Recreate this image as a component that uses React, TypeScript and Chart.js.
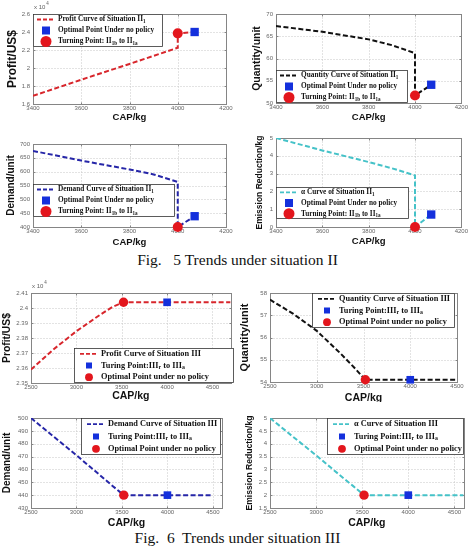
import React, { useEffect, useRef } from 'react';
import { Chart, registerables } from 'chart.js';

Chart.register(...registerables);

// ---------- Situation II (Fig. 5) ----------
const capII = [3400, 3600, 3800, 3900, 4000];
const profitII = [16900, 18700, 20450, 21350, 22250];
const quantityII = [67.3, 66.0, 64.3, 63.0, 61.2];
const demandII = [675, 640, 608, 590, 563];
const alphaII = [5.0, 4.3, 3.65, 3.3, 2.9];

// turning point II1b -> II1a
const turnCapII = 4000;
const turnProfitII = 23850;
const turnQuantityII = 51.7;
const turnDemandII = 400;
const turnAlphaII = 0;

// optimal point under no policy
const optCapII = 4070;
const optProfitII = 24000;
const optQuantityII = 54.1;
const optDemandII = 439;
const optAlphaII = 0.7;

const capTicksII = [3400, 3600, 3800, 4000, 4200];
const profitTicksII = [16000, 18000, 20000, 22000, 24000, 26000];
const quantityTicksII = [50, 55, 60, 65, 70];
const demandTicksII = [400, 450, 500, 550, 600, 650, 700];
const alphaTicksII = [0, 1, 2, 3, 4, 5];

// ---------- Situation III (Fig. 6) ----------
const capIII = [2500, 2750, 3000, 3250, 3400, 3520];
const profitIII = [23590, 23725, 23845, 23950, 24008, 24038];
const quantityIII = [57.7, 57.06, 56.3, 55.3, 54.65, 54.1];
const demandIII = [500, 485.5, 471, 456, 447, 440];
const alphaIII = [5.0, 4.27, 3.55, 2.8, 2.36, 2.0];

// turning point III_r -> III_a
const turnCapIII = 4000;
// the flat part of each curve runs on to these CAP values
const profitEndIII = 4700;
const quantityEndIII = 4500;
const demandEndIII = 4500;
const alphaEndIII = 4600;

const capTicksIII = [2500, 3000, 3500, 4000, 4500];
const profitTicksIII = [23500, 23600, 23700, 23800, 23900, 24000, 24100];
const quantityTicksIII = [54, 55, 56, 57, 58];
const demandTicksIII = [430, 440, 450, 460, 470, 480, 490, 500];
const alphaTicksIII = [1.5, 2, 2.5, 3, 3.5, 4, 4.5, 5];

// ---------- styling ----------
const RED = '#e3161d';
const BLUE = '#1430dc';
const SANS = '"Liberation Sans", Arial, sans-serif';
const SERIF = '"Liberation Serif", "Times New Roman", serif';

type Pt = { x: number; y: number };
type LegendItem = { kind: 'line' | 'square' | 'circle'; text: string };
type PanelSpec = {
  key: string;
  box: [number, number, number, number];
  plot: [number, number, number, number];
  xMin: number; xMax: number; xTicks: number[];
  yMin: number; yMax: number; yTicks: number[];
  yFmt: (v: number) => string;
  curve: Pt[]; circle: Pt; square: Pt;
  color: string;
  yTitle: string; yTitleSize: number; yTitleX: number;
  xTitleSize: number; xTitleY: number;
  legend: [number, number, number, number];
  items: LegendItem[];
  legendFont: number; sample: [number, number]; textX: number;
  legendSquare: number; legendCircle: number;
  circleR: number; squareR: number;
  exponent: boolean;
};

const zip = (xs: number[], ys: number[]): Pt[] => xs.map((x, i) => ({ x, y: ys[i] }));
const plain = (v: number) => String(Number(v.toFixed(3)));
const scaled4 = (v: number) => String(Number((v / 1e4).toFixed(3)));

const fig5 = {
  legendFont: 7.3, sample: [4, 22] as [number, number], textX: 25,
  legendSquare: 8, legendCircle: 5.5, circleR: 5, squareR: 5.9,
  xMin: 3400, xMax: 4200, xTicks: capTicksII, xTitleSize: 9.5,
};
const fig6 = {
  legendFont: 8.3, sample: [6, 24] as [number, number], textX: 27,
  legendSquare: 6, legendCircle: 3.9, circleR: 4.7, squareR: 5.4,
  xMin: 2500, xTicks: capTicksIII, xTitleSize: 10.5,
};

const itemsII = (curveName: string): LegendItem[] => [
  { kind: 'line', text: `${curveName} Curve of Situation II_{1}` },
  { kind: 'square', text: 'Optimal Point Under no policy' },
  { kind: 'circle', text: 'Turning Point: II_{1b} to II_{1a}' },
];
const itemsIII = (curveName: string): LegendItem[] => [
  { kind: 'line', text: `${curveName} Curve of Situation III` },
  { kind: 'square', text: 'Turing Point:III_{r} to III_{a}' },
  { kind: 'circle', text: 'Optimal Point under no policy' },
];

const flatTail = (xs: number[], ys: number[], end: number): Pt[] =>
  [...zip(xs, ys), { x: end, y: ys[ys.length - 1] }];

const panels: PanelSpec[] = [
  {
    ...fig5, key: 'profitII',
    box: [0, 0, 236, 124], plot: [33, 14, 226, 104],
    yMin: 16000, yMax: 26000, yTicks: profitTicksII, yFmt: scaled4,
    curve: [...zip(capII, profitII), { x: turnCapII, y: turnProfitII }, { x: optCapII, y: optProfitII }],
    circle: { x: turnCapII, y: turnProfitII }, square: { x: optCapII, y: optProfitII },
    color: '#d8262c', yTitle: 'Profit/US$', yTitleSize: 12, yTitleX: 12.7, xTitleY: 117,
    legend: [33, 14, 130, 33], items: itemsII('Profit'), exponent: true,
  },
  {
    ...fig5, key: 'quantityII',
    box: [236, 0, 233, 124], plot: [276, 14, 462, 103],
    yMin: 50, yMax: 70, yTicks: quantityTicksII, yFmt: plain,
    curve: [...zip(capII, quantityII), { x: turnCapII, y: turnQuantityII }, { x: optCapII, y: optQuantityII }],
    circle: { x: turnCapII, y: turnQuantityII }, square: { x: optCapII, y: optQuantityII },
    color: '#111111', yTitle: 'Quantity/unit', yTitleSize: 10.5, yTitleX: 256.7, xTitleY: 117,
    legend: [276, 70, 132, 33], items: itemsII('Quantity'), exponent: false,
  },
  {
    ...fig5, key: 'demandII',
    box: [0, 124, 236, 126], plot: [33, 144, 226, 227],
    yMin: 400, yMax: 700, yTicks: demandTicksII, yFmt: plain,
    curve: [...zip(capII, demandII), { x: turnCapII, y: turnDemandII }, { x: optCapII, y: optDemandII }],
    circle: { x: turnCapII, y: turnDemandII }, square: { x: optCapII, y: optDemandII },
    color: '#2626a8', yTitle: 'Demand/unit', yTitleSize: 10, yTitleX: 11, xTitleY: 242.7,
    legend: [33, 184, 142, 33], items: itemsII('Demand'), exponent: false,
  },
  {
    ...fig5, key: 'alphaII',
    box: [236, 124, 233, 126], plot: [276, 138, 462, 227],
    yMin: 0, yMax: 5, yTicks: alphaTicksII, yFmt: plain,
    curve: [...zip(capII, alphaII), { x: turnCapII, y: turnAlphaII }, { x: optCapII, y: optAlphaII }],
    circle: { x: turnCapII, y: turnAlphaII }, square: { x: optCapII, y: optAlphaII },
    color: '#45c2c8', yTitle: 'Emission Reduction/kg', yTitleSize: 8.5, yTitleX: 260, xTitleY: 241.7,
    legend: [276, 187, 133, 32], items: itemsII('α'), exponent: false,
  },
  {
    ...fig6, key: 'profitIII',
    box: [0, 268, 236, 134], plot: [31, 293, 235, 383],
    xMax: profitEndIII,
    yMin: 23500, yMax: 24100, yTicks: profitTicksIII, yFmt: scaled4,
    curve: flatTail(capIII, profitIII, profitEndIII),
    circle: { x: capIII[capIII.length - 1], y: profitIII[profitIII.length - 1] },
    square: { x: turnCapIII, y: profitIII[profitIII.length - 1] },
    color: '#d8262c', yTitle: 'Profit/US$', yTitleSize: 10.3, yTitleX: 6.7, xTitleY: 395.7,
    legend: [74, 348, 160, 35], items: itemsIII('Profit'), exponent: true,
  },
  {
    ...fig6, key: 'quantityIII',
    box: [236, 268, 233, 134], plot: [270, 293, 457, 382],
    xMax: quantityEndIII,
    yMin: 54, yMax: 58, yTicks: quantityTicksIII, yFmt: plain,
    curve: flatTail(capIII, quantityIII, quantityEndIII),
    circle: { x: capIII[capIII.length - 1], y: quantityIII[quantityIII.length - 1] },
    square: { x: turnCapIII, y: quantityIII[quantityIII.length - 1] },
    color: '#111111', yTitle: 'Quantity/unit', yTitleSize: 11, yTitleX: 245, xTitleY: 398,
    legend: [312, 293, 143, 35], items: itemsIII('Quantity'), exponent: false,
  },
  {
    ...fig6, key: 'demandIII',
    box: [0, 402, 236, 127], plot: [31, 418, 222, 508],
    xMax: 4600,
    yMin: 430, yMax: 500, yTicks: demandTicksIII, yFmt: plain,
    curve: flatTail(capIII, demandIII, demandEndIII),
    circle: { x: capIII[capIII.length - 1], y: demandIII[demandIII.length - 1] },
    square: { x: turnCapIII, y: demandIII[demandIII.length - 1] },
    color: '#2626a8', yTitle: 'Demand/unit', yTitleSize: 10, yTitleX: 7.3, xTitleY: 523.3,
    legend: [81, 418, 140, 37], items: itemsIII('Demand'), exponent: false,
  },
  {
    ...fig6, key: 'alphaIII',
    box: [236, 402, 233, 127], plot: [270, 418, 465, 508],
    xMax: 4600,
    yMin: 1.5, yMax: 5, yTicks: alphaTicksIII, yFmt: plain,
    curve: flatTail(capIII, alphaIII, alphaEndIII),
    circle: { x: capIII[capIII.length - 1], y: alphaIII[alphaIII.length - 1] },
    square: { x: turnCapIII, y: alphaIII[alphaIII.length - 1] },
    color: '#45c2c8', yTitle: 'Emission Reduction/kg', yTitleSize: 8.6, yTitleX: 250, xTitleY: 523,
    legend: [327, 418, 137, 37], items: itemsIII('α'), exponent: false,
  },
];

// split "II_{1b}" style text into normal / subscript runs
function parseRich(s: string): { t: string; sub: boolean }[] {
  const out: { t: string; sub: boolean }[] = [];
  const re = /_\{([^}]*)\}/g;
  let last = 0;
  let m: RegExpExecArray | null;
  while ((m = re.exec(s))) {
    if (m.index > last) out.push({ t: s.slice(last, m.index), sub: false });
    out.push({ t: m[1], sub: true });
    last = re.lastIndex;
  }
  if (last < s.length) out.push({ t: s.slice(last), sub: false });
  return out;
}

function makeDecor(p: PanelSpec) {
  return {
    id: 'panelDecor',
    beforeDatasetsDraw(chart: any) {
      const { ctx, chartArea: a } = chart;
      const xs = chart.scales.x;
      const ys = chart.scales.y;
      const L = Math.round(a.left) + 0.5;
      const R = Math.round(a.right) + 0.5;
      const T = Math.round(a.top) + 0.5;
      const B = Math.round(a.bottom) + 0.5;
      ctx.save();
      // dotted grid
      ctx.lineWidth = 1;
      ctx.strokeStyle = '#c6c6c6';
      ctx.setLineDash([1, 2]);
      for (const v of p.xTicks) {
        const px = Math.round(xs.getPixelForValue(v)) + 0.5;
        if (px <= L + 1 || px >= R - 1) continue;
        ctx.beginPath(); ctx.moveTo(px, T); ctx.lineTo(px, B); ctx.stroke();
      }
      for (const v of p.yTicks) {
        const py = Math.round(ys.getPixelForValue(v)) + 0.5;
        if (py <= T + 1 || py >= B - 1) continue;
        ctx.beginPath(); ctx.moveTo(L, py); ctx.lineTo(R, py); ctx.stroke();
      }
      ctx.setLineDash([]);
      // inward tick marks and box
      ctx.strokeStyle = '#858585';
      for (const v of p.xTicks) {
        const px = Math.round(xs.getPixelForValue(v)) + 0.5;
        ctx.beginPath();
        ctx.moveTo(px, B); ctx.lineTo(px, B - 2);
        ctx.moveTo(px, T); ctx.lineTo(px, T + 2);
        ctx.stroke();
      }
      for (const v of p.yTicks) {
        const py = Math.round(ys.getPixelForValue(v)) + 0.5;
        ctx.beginPath();
        ctx.moveTo(L, py); ctx.lineTo(L + 2, py);
        ctx.moveTo(R, py); ctx.lineTo(R - 2, py);
        ctx.stroke();
      }
      ctx.strokeRect(L, T, R - L, B - T);
      ctx.restore();
    },
    afterDatasetsDraw(chart: any) {
      const { ctx, chartArea: a } = chart;
      const [cx, cy] = p.box;
      const [gx, gy, gw, gh] = p.legend;
      const lx = gx - cx;
      const ly = gy - cy;
      ctx.save();
      // legend box
      ctx.fillStyle = '#ffffff';
      ctx.fillRect(lx, ly, gw, gh);
      ctx.strokeStyle = '#333333';
      ctx.lineWidth = 0.8;
      ctx.strokeRect(lx + 0.5, ly + 0.5, gw - 1, gh - 1);
      const rowH = gh / p.items.length;
      const [s0, s1] = p.sample;
      const mid = lx + (s0 + s1) / 2;
      p.items.forEach((it, i) => {
        const yc = ly + rowH * (i + 0.5);
        if (it.kind === 'line') {
          ctx.strokeStyle = p.color;
          ctx.lineWidth = 1.8;
          ctx.setLineDash([4, 2]);
          ctx.beginPath(); ctx.moveTo(lx + s0, yc); ctx.lineTo(lx + s1, yc); ctx.stroke();
          ctx.setLineDash([]);
        } else if (it.kind === 'square') {
          const s = p.legendSquare;
          ctx.fillStyle = BLUE;
          ctx.fillRect(mid - s / 2, yc - s / 2, s, s);
        } else {
          ctx.fillStyle = RED;
          ctx.beginPath(); ctx.arc(mid, yc, p.legendCircle, 0, Math.PI * 2); ctx.fill();
        }
        let tx = lx + p.textX;
        ctx.fillStyle = '#111111';
        ctx.textBaseline = 'middle';
        ctx.textAlign = 'left';
        for (const seg of parseRich(it.text)) {
          const size = seg.sub ? p.legendFont * 0.7 : p.legendFont;
          ctx.font = `bold ${size}px ${SERIF}`;
          ctx.fillText(seg.t, tx, seg.sub ? yc + p.legendFont * 0.3 : yc);
          tx += ctx.measureText(seg.t).width;
        }
      });
      // x 10^4 multiplier
      if (p.exponent) {
        ctx.fillStyle = '#606060';
        ctx.textAlign = 'left';
        ctx.textBaseline = 'alphabetic';
        ctx.font = `6px ${SANS}`;
        const ex = a.left + 1;
        const ey = a.top - 5;
        ctx.fillText('x 10', ex, ey);
        const w = ctx.measureText('x 10').width;
        ctx.font = `4.5px ${SANS}`;
        ctx.fillText('4', ex + w + 1, ey - 4);
      }
      ctx.restore();
    },
  };
}

function Panel({ p }: { p: PanelSpec }) {
  const ref = useRef<HTMLCanvasElement>(null);
  useEffect(() => {
    const canvas = ref.current;
    if (!canvas) return;
    const [cx, cy, cw, ch] = p.box;
    const [pl, pt, pr, pb] = p.plot;
    const yLh = p.yTitleSize * 1.2;
    const xLh = p.xTitleSize * 1.2;
    const tickFont = { family: SANS, size: 6 };
    const chart = new Chart(canvas, {
      type: 'scatter',
      data: {
        datasets: [
          {
            data: [p.circle], pointStyle: 'circle', pointRadius: p.circleR,
            backgroundColor: RED, borderColor: RED, borderWidth: 0, clip: false, order: 0,
          },
          {
            data: [p.square], pointStyle: 'rect', pointRadius: p.squareR,
            backgroundColor: BLUE, borderColor: BLUE, borderWidth: 0, clip: false, order: 1,
          },
          {
            data: p.curve, showLine: true, pointRadius: 0, borderColor: p.color,
            borderWidth: 2, borderDash: [5, 2.5], fill: false, order: 2,
          },
        ],
      } as any,
      options: {
        animation: false,
        responsive: false,
        events: [],
        layout: { padding: { left: 0, top: pt - cy, right: cx + cw - pr, bottom: 0 } },
        plugins: { legend: { display: false }, tooltip: { enabled: false } },
        scales: {
          x: {
            type: 'linear', position: 'bottom', min: p.xMin, max: p.xMax,
            afterBuildTicks: (s: any) => { s.ticks = p.xTicks.map((v) => ({ value: v })); },
            afterFit: (s: any) => { s.height = cy + ch - pb; },
            grid: { display: false, drawTicks: false },
            border: { display: false },
            ticks: {
              font: tickFont, color: '#666666', padding: 1, maxRotation: 0, autoSkip: false,
              callback: (v: any) => String(v),
            },
            title: {
              display: true, text: 'CAP/kg', color: '#111111',
              font: { family: SANS, size: p.xTitleSize, weight: 'bold' },
              padding: { top: 0, bottom: cy + ch - p.xTitleY - xLh / 2 },
            },
          },
          y: {
            type: 'linear', position: 'left', min: p.yMin, max: p.yMax,
            afterBuildTicks: (s: any) => { s.ticks = p.yTicks.map((v) => ({ value: v })); },
            afterFit: (s: any) => { s.width = pl - cx; },
            grid: { display: false, drawTicks: false },
            border: { display: false },
            ticks: {
              font: tickFont, color: '#666666', padding: 3, autoSkip: false,
              callback: (v: any) => p.yFmt(Number(v)),
            },
            title: {
              display: true, text: p.yTitle, color: '#111111',
              font: { family: SANS, size: p.yTitleSize, weight: 'bold' },
              padding: { top: p.yTitleX - cx - yLh / 2, bottom: 0 },
            },
          },
        },
      } as any,
      plugins: [makeDecor(p)],
    });
    return () => chart.destroy();
  }, [p]);
  const [cx, cy, cw, ch] = p.box;
  return (
    <canvas
      ref={ref}
      width={cw}
      height={ch}
      style={{ position: 'absolute', left: cx, top: cy, width: cw, height: ch }}
    />
  );
}

const captionStyle = (top: number): React.CSSProperties => ({
  position: 'absolute',
  left: 237.5,
  top,
  transform: 'translateX(-50%)',
  whiteSpace: 'pre',
  fontFamily: SERIF,
  fontSize: 15.5,
  lineHeight: '16px',
  color: '#111111',
});

export default function App() {
  return (
    <div
      style={{
        position: 'absolute', left: 0, top: 0, width: 469, height: 549,
        background: '#ffffff', overflow: 'hidden',
      }}
    >
      {panels.map((p) => (
        <Panel key={p.key} p={p} />
      ))}
      <div style={captionStyle(252)}>{'Fig.   5 Trends under situation II'}</div>
      <div style={captionStyle(530)}>{'Fig.  6  Trends under situation III'}</div>
    </div>
  );
}
